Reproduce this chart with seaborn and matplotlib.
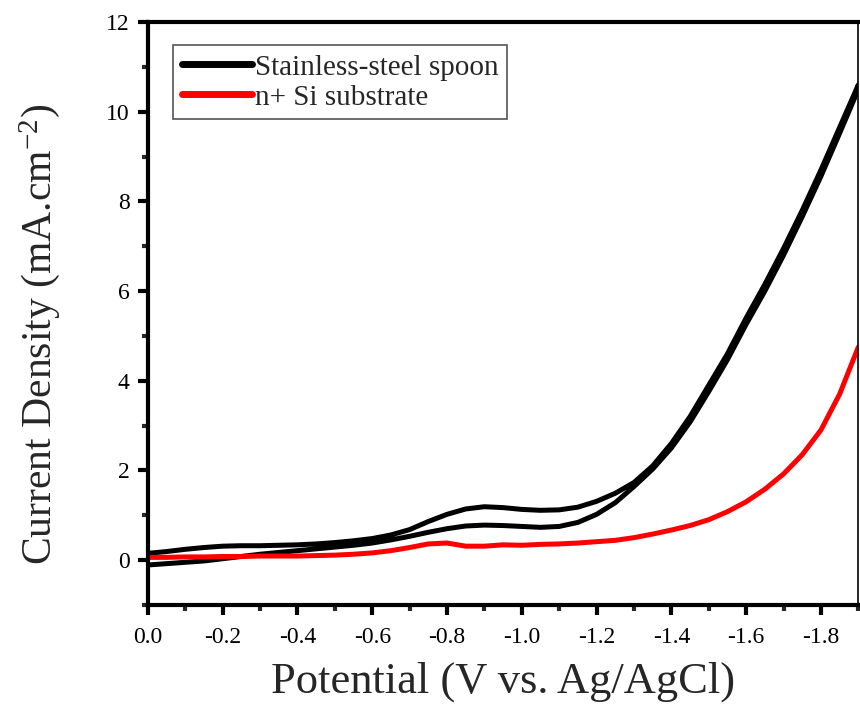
import numpy as np
import pandas as pd
import matplotlib
matplotlib.use("Agg")
import matplotlib.pyplot as plt
import seaborn as sns
from matplotlib.ticker import MultipleLocator

potential = [0.0, -0.05, -0.1, -0.15, -0.2, -0.25, -0.3, -0.35, -0.4, -0.45,
             -0.5, -0.55, -0.6, -0.65, -0.7, -0.75, -0.8, -0.85, -0.9, -0.95,
             -1.0, -1.05, -1.1, -1.15, -1.2, -1.25, -1.3, -1.35, -1.4, -1.45,
             -1.5, -1.55, -1.6, -1.65, -1.7, -1.75, -1.8, -1.85, -1.9]

spoon_scan_a = [0.15, 0.19, 0.24, 0.28, 0.31, 0.32, 0.32, 0.33, 0.34, 0.36,
                0.39, 0.43, 0.48, 0.56, 0.68, 0.86, 1.02, 1.14, 1.19, 1.17,
                1.13, 1.11, 1.12, 1.18, 1.31, 1.49, 1.73, 2.10, 2.60, 3.20,
                3.90, 4.60, 5.40, 6.15, 6.95, 7.80, 8.70, 9.65, 10.60]

spoon_scan_b = [-0.11, -0.08, -0.05, -0.02, 0.03, 0.08, 0.13, 0.17, 0.21, 0.25,
                0.29, 0.33, 0.38, 0.45, 0.53, 0.62, 0.70, 0.76, 0.78, 0.77,
                0.75, 0.73, 0.75, 0.84, 1.02, 1.28, 1.64, 2.03, 2.50, 3.08,
                3.76, 4.47, 5.26, 6.00, 6.80, 7.66, 8.56, 9.52, 10.50]

si_current = [0.06, 0.06, 0.07, 0.07, 0.08, 0.08, 0.09, 0.09, 0.09, 0.10,
              0.11, 0.13, 0.16, 0.21, 0.28, 0.36, 0.38, 0.31, 0.31, 0.34,
              0.33, 0.35, 0.36, 0.38, 0.41, 0.44, 0.50, 0.58, 0.67, 0.77,
              0.90, 1.08, 1.30, 1.58, 1.92, 2.35, 2.90, 3.70, 4.75]

x_ticks = [0.0, -0.2, -0.4, -0.6, -0.8, -1.0, -1.2, -1.4, -1.6, -1.8]
x_ticklabels = ["0.0", "-0.2", "-0.4", "-0.6", "-0.8", "-1.0", "-1.2", "-1.4", "-1.6", "-1.8"]
y_ticks = [0, 2, 4, 6, 8, 10, 12]

label_spoon = "Stainless-steel spoon"
label_si = "n+ Si substrate"

sns.set_style("ticks")
plt.rcParams["font.family"] = ["Liberation Serif", "DejaVu Serif"]
plt.rcParams["mathtext.fontset"] = "custom"
plt.rcParams["mathtext.rm"] = "Liberation Serif"
plt.rcParams["mathtext.it"] = "Liberation Serif:italic"

# closed CV loop for the spoon: forward then reverse
loop_x = potential + potential[::-1]
loop_y = spoon_scan_a + spoon_scan_b[::-1]
df_spoon = pd.DataFrame({"E": loop_x, "J": loop_y})
df_si = pd.DataFrame({"E": potential, "J": si_current})

fig = plt.figure(figsize=(8.6, 7.15), dpi=100)
ax = fig.add_axes([0.172, 0.154, 0.826, 0.815])

sns.lineplot(data=df_spoon, x="E", y="J", sort=False, estimator=None,
             color="black", linewidth=3.6, ax=ax, label=label_spoon)
sns.lineplot(data=df_si, x="E", y="J", sort=False, estimator=None,
             color="#ff0000", linewidth=3.6, ax=ax, label=label_si)

ax.set_xlim(0.0, -1.9)
ax.set_ylim(-1, 12)
ax.set_xticks(x_ticks)
ax.set_xticklabels(x_ticklabels)
ax.set_yticks(y_ticks)
ax.xaxis.set_minor_locator(MultipleLocator(0.1))
ax.yaxis.set_minor_locator(MultipleLocator(1))

ax.tick_params(axis="both", which="major", direction="out", length=7, width=3,
               labelsize=17, colors="black")
ax.tick_params(axis="both", which="minor", direction="out", length=4, width=3)
ax.tick_params(axis="x", pad=9)
ax.tick_params(axis="y", pad=6)

for side in ["left", "bottom", "top"]:
    ax.spines[side].set_linewidth(3)
    ax.spines[side].set_color("black")
ax.spines["right"].set_linewidth(1.2)
ax.spines["right"].set_color("black")
ax.spines["top"].set_visible(True)
ax.spines["right"].set_visible(True)

ax.set_xlabel("Potential (V vs. Ag/AgCl)", fontsize=32, labelpad=10)
ax.set_ylabel("Current Density (mA.cm$^{-2}$)", fontsize=30)
ax.yaxis.set_label_coords(-0.121, 0.465)

leg = ax.legend(loc="upper left", bbox_to_anchor=(0.035, 0.96), borderaxespad=0,
                fontsize=21, frameon=True, fancybox=False, edgecolor="#555555",
                framealpha=1, handlelength=2.4, handletextpad=0.12,
                borderpad=0.3, labelspacing=0.12)
leg.get_frame().set_linewidth(1.2)
for line in leg.get_lines():
    line.set_linewidth(5)
    line.set_solid_capstyle("round")

fig.savefig("out.png", dpi=100)
